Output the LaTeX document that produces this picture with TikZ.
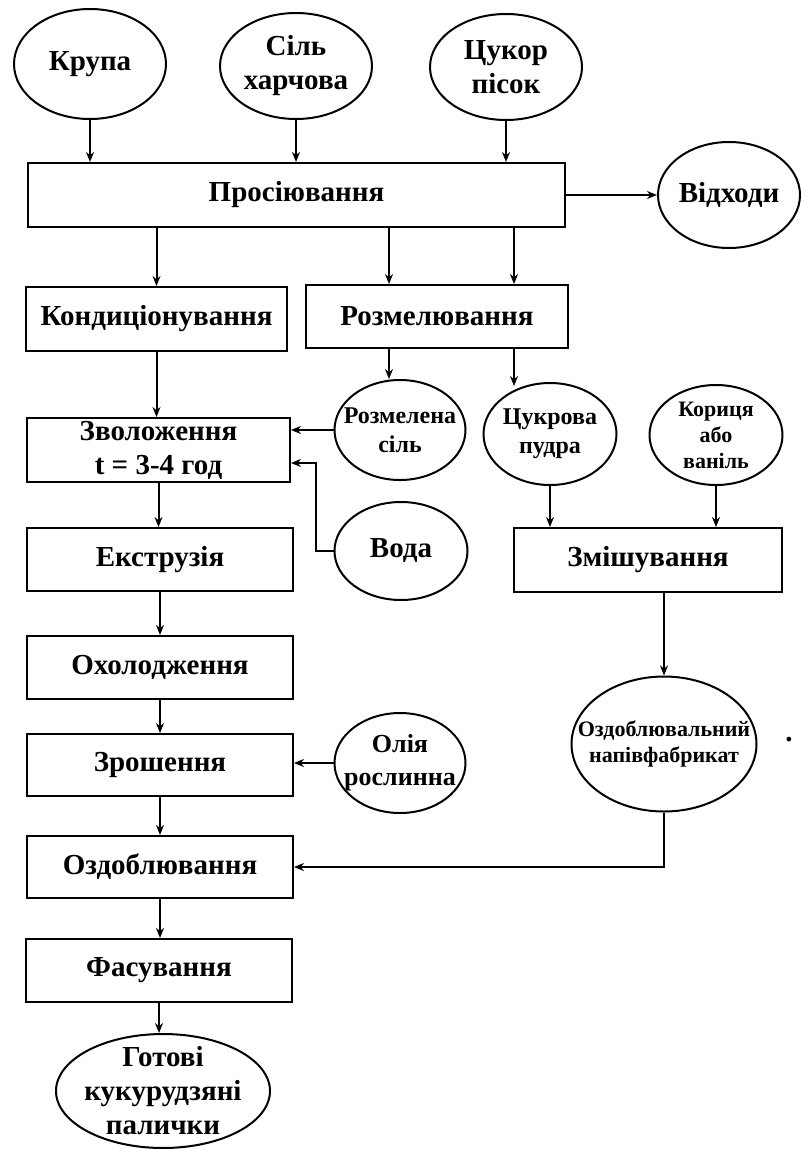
\documentclass[tikz,border=0pt]{standalone}
\usepackage{fontspec}
\setmainfont{Liberation Serif}
\usetikzlibrary{shapes.geometric,arrows.meta}
\begin{document}
\begin{tikzpicture}[x=1pt,y=-1pt,
  every node/.style={font=\bfseries\fontsize{29}{34}\selectfont, align=center, inner sep=0pt},
  box/.style={draw, line width=2pt, rectangle},
  oval/.style={draw, line width=2pt, ellipse},
  midtext/.style={font=\bfseries\fontsize{24}{29}\selectfont},
  oltext/.style={font=\bfseries\fontsize{26}{33}\selectfont},
  tinytext/.style={font=\bfseries\fontsize{22}{26}\selectfont},
  arr/.style={draw, line width=2pt, -{Stealth[length=10pt,width=8pt]}}]
\useasboundingbox (0,0) rectangle (802,1149);
% ovals (fixed size) and their texts
\node[oval, minimum width=152pt, minimum height=110pt] (krupa) at (90,64) {};
\node (krupaT) at (krupa.center) {Крупа};
\node[oval, minimum width=152pt, minimum height=106pt] (sil) at (296,66) {};
\node (silT) at (sil.center) {Сіль\\харчова};
\node[oval, minimum width=152pt, minimum height=106pt] (tsukor) at (506,67) {};
\node (tsukorT) at (tsukor.center) {Цукор\\пісок};
\node[oval, minimum width=142pt, minimum height=106pt] (vidkh) at (729,195) {};
\node (vidkhT) at (vidkh.center) {Відходи};
\node[oval, minimum width=131pt, minimum height=100pt] (rsil) at (400,430) {};
\node[midtext] (rsilT) at (rsil.center) {Розмелена\\сіль};
\node[oval, minimum width=133pt, minimum height=102pt] (pudra) at (550,434) {};
\node[midtext] (pudraT) at (pudra.center) {Цукрова\\пудра};
\node[oval, minimum width=133pt, minimum height=100pt] (kor) at (716,435) {};
\node[tinytext] (korT) at (kor.center) {Кориця\\або\\ваніль};
\node[oval, minimum width=133pt, minimum height=98pt] (voda) at (401,551) {};
\node (vodaT) at (voda.center) {Вода};
\node[oval, minimum width=131pt, minimum height=100pt] (oliya) at (400,763) {};
\node[oltext] (oliyaT) at (oliya.center) {Олія\\рослинна};
\node[oval, minimum width=185pt, minimum height=135pt] (ozfab) at (664,744) {};
\node[tinytext] (ozfabT) at (ozfab.center) {Оздоблювальний\\напівфабрикат};
\node[oval, minimum width=214pt, minimum height=114pt] (gotovi) at (163,1091) {};
\node (gotoviT) at (gotovi.center) {Готові\\кукурудзяні\\палички};
% boxes
\node[box, minimum width=537pt, minimum height=64pt] (pros) at (296.5,195) {Просіювання};
\node[box, minimum width=261pt, minimum height=64pt] (kond) at (156.5,319) {Кондиціонування};
\node[box, minimum width=262pt, minimum height=63pt] (rozmel) at (437,316.5) {Розмелювання};
\node[box, minimum width=263pt, minimum height=64pt] (zvol) at (158.5,450) {Зволоження\\t = 3-4 год};
\node[box, minimum width=266pt, minimum height=63pt] (ekstr) at (160,559.5) {Екструзія};
\node[box, minimum width=268pt, minimum height=64pt] (zmish) at (648,560) {Змішування};
\node[box, minimum width=266pt, minimum height=63pt] (okhol) at (160,667.5) {Охолодження};
\node[box, minimum width=266pt, minimum height=62pt] (zrosh) at (160,765) {Зрошення};
\node[box, minimum width=266pt, minimum height=62pt] (ozdob) at (160,867) {Оздоблювання};
\node[box, minimum width=266pt, minimum height=63pt] (fasuv) at (159,970.5) {Фасування};
\node (dot) at (789,740) {.};
% helper columns
\coordinate (xA) at (389,0);
\coordinate (xB) at (514,0);
% connectors
\draw[arr] (krupa.south) -- (krupa.south |- pros.north);
\draw[arr] (sil.south) -- (sil.south |- pros.north);
\draw[arr] (tsukor.south) -- (tsukor.south |- pros.north);
\draw[arr] (pros.east) -- (vidkh.west);
\draw[arr] (pros.south -| kond.north) -- (kond.north);
\draw[arr] (pros.south -| xA) -- (rozmel.north -| xA);
\draw[arr] (pros.south -| xB) -- (rozmel.north -| xB);
\draw[arr] (rozmel.south -| xA) -- (rsil.north -| xA);
\draw[arr] (rozmel.south -| xB) -- ([yshift=-4pt]pudra.north -| xB);
\draw[arr] (kond.south) -- (kond.south |- zvol.north);
\draw[arr] (rsil.west) -- (rsil.west -| zvol.east);
\draw[arr] (voda.west) -- ++(-18,0) |- ([yshift=-13pt]zvol.east);
\draw[arr] (zvol.south) -- (zvol.south |- ekstr.north);
\draw[arr] (ekstr.south) -- (ekstr.south |- okhol.north);
\draw[arr] (okhol.south) -- (okhol.south |- zrosh.north);
\draw[arr] (oliya.west) -- (oliya.west -| zrosh.east);
\draw[arr] (zrosh.south) -- (zrosh.south |- ozdob.north);
\draw[arr] (ozdob.south) -- (ozdob.south |- fasuv.north);
\draw[arr] (fasuv.south) -- (fasuv.south |- gotovi.north);
\draw[arr] (pudra.south) -- (pudra.south |- zmish.north);
\draw[arr] (kor.south) -- (kor.south |- zmish.north);
\draw[arr] (ozfab.north |- zmish.south) -- (ozfab.north);
\draw[arr] (ozfab.south) |- (ozdob.east);
\end{tikzpicture}
\end{document}
